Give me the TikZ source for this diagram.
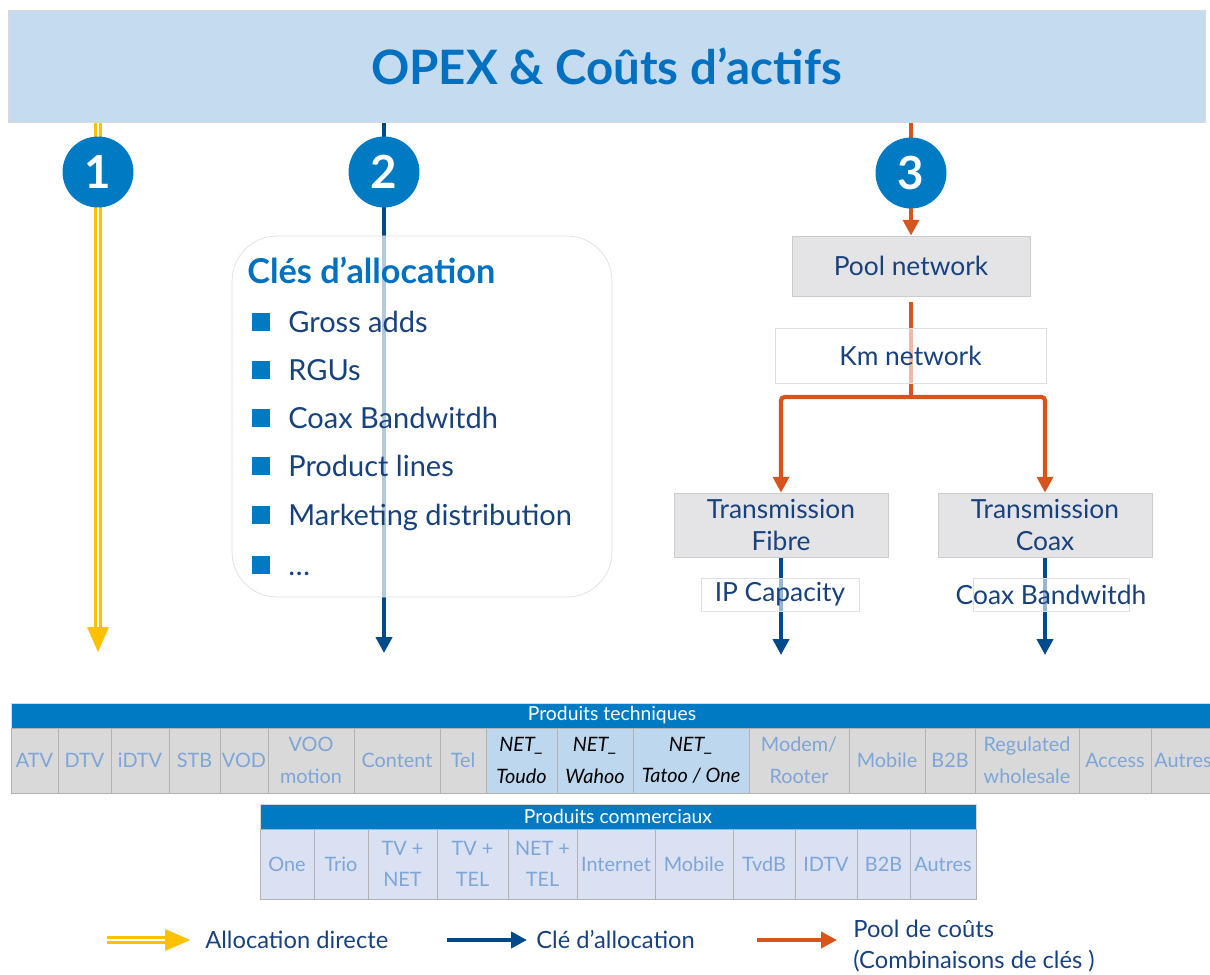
\documentclass[tikz,border=0pt]{standalone}
\usepackage{fontspec}
\setmainfont{Lato}
\usepackage{xcolor}
\usetikzlibrary{arrows.meta, positioning, calc, backgrounds}

\definecolor{bannerblue}{RGB}{197,219,239}
\definecolor{titleblue}{RGB}{0,112,192}
\definecolor{discblue}{RGB}{0,122,194}
\definecolor{keyblue}{RGB}{0,74,140}
\definecolor{textblue}{RGB}{24,66,126}
\definecolor{poolorange}{RGB}{214,84,30}
\definecolor{directyellow}{RGB}{255,192,0}
\definecolor{boxgray}{RGB}{228,228,230}
\definecolor{cellgray}{RGB}{217,217,217}
\definecolor{cellnet}{RGB}{189,215,238}
\definecolor{cellcom}{RGB}{218,225,242}
\definecolor{celltext}{RGB}{125,165,215}

\tikzset{
  banner/.style={rectangle, draw=black!15, fill=bannerblue, minimum width=23.94cm, minimum height=2.24cm, text=titleblue, font=\bfseries\fontsize{27}{30}\selectfont},
  disc/.style={circle, fill=discblue, minimum size=1.42cm, inner sep=0pt, text=white, font=\bfseries\fontsize{26}{26}\selectfont},
  keysbox/.style={rectangle, rounded corners=0.9cm, draw=black!12, fill=white, fill opacity=0.7, minimum width=7.6cm, minimum height=7.22cm},
  keyshead/.style={inner sep=0pt, text=titleblue, font=\bfseries\fontsize{19.5}{22}\selectfont},
  bullet/.style={rectangle, fill=discblue, minimum size=0.36cm, inner sep=0pt},
  keyitem/.style={inner sep=0pt, text=textblue, font=\fontsize{16.5}{19}\selectfont},
  graybox/.style={rectangle, draw=black!20, fill=boxgray, text=textblue, align=center, inner sep=0pt, font=\fontsize{15}{18}\selectfont},
  glassbox/.style={rectangle, draw=black!12, fill=white, fill opacity=0.6, text opacity=1, text=textblue, inner sep=0pt, font=\fontsize{15}{18}\selectfont},
  labelframe/.style={draw=black!12, fill=white, fill opacity=0.6},
  labeltext/.style={inner sep=0pt, text=textblue, font=\fontsize{15}{18}\selectfont},
  directline/.style={draw=directyellow, line width=1.3pt, double=white, double distance=1.6pt},
  keyline/.style={draw=keyblue, line width=2.4pt},
  poolline/.style={draw=poolorange, line width=2.4pt},
  keytip/.style={-{Triangle[length=9pt, width=9pt]}},
  pooltip/.style={-{Triangle[length=9pt, width=9pt]}},
  headcell/.style={fill=discblue, draw=black!15},
  headtext/.style={inner sep=0pt, text=white, font=\fontsize{11}{13}\selectfont},
  celltxt/.style={inner sep=0pt, align=center, text=celltext, font=\fontsize{11.3}{18}\selectfont},
  nettxt/.style={inner sep=0pt, align=center, text=black, font=\itshape\fontsize{11.3}{18}\selectfont},
  legendtext/.style={inner sep=0pt, text=textblue, align=left, font=\fontsize{13.5}{17.5}\selectfont}
}

\begin{document}
\begin{tikzpicture}[x=0.02cm, y=-0.02cm, >=latex]
\useasboundingbox (0,0) rectangle (1210,974);

% --- Banner OPEX ---
\node[banner] (banner) at (606.5,66) {OPEX \& Coûts d’actifs};

% --- Numbered discs ---
\node[disc] (c1) at (98,172) {1};
\node[disc] (c2) at (384,172) {2};
\node[disc] (c3) at (911,173) {3};

% --- Allocation keys (2) ---
\node[keysbox] (keys) at (422,416.5) {};
\node[keyshead, anchor=base west] (keyhead) at (247,283) {Clés d’allocation};
\foreach \y/\txt [count=\i] in {322/Gross adds, 370/RGUs, 418/Coax Bandwitdh, 466/Product lines, 515/Marketing distribution, 565/\dots}{
  \node[bullet] (b\i) at (261,\y) {};
  \node[keyitem, anchor=base west] (k\i) at (288,\y+10) {\txt};
}

% --- Cost pool (3) ---
\node[graybox, minimum width=4.76cm, minimum height=1.2cm] (pool) at (911,266) {Pool network};
\node[glassbox, minimum width=5.42cm, minimum height=1.1cm] (km) at (910.5,355.5) {Km network};
\coordinate (split) at (911,397);
\node[graybox, minimum width=4.28cm, minimum height=1.28cm] (fibre) at (781,525) {Transmission\\Fibre};
\node[graybox, minimum width=4.28cm, minimum height=1.28cm] (coax) at (1045,525) {Transmission\\Coax};

% arrow ends above the tables
\coordinate (d1end) at (98,652);
\coordinate (d2end) at (384,653);
\coordinate (d4end) at (781,655);
\coordinate (d5end) at (1045,655);

% --- Connectors (behind the boxes) ---
\begin{scope}[on background layer]
\draw[directline] (banner.south -| c1) -- ($(d1end)+(0,-22)$);
\fill[directyellow] ($(d1end)+(-11,-25)$) -- (d1end) -- ($(d1end)+(11,-25)$) -- cycle;
\draw[keyline, keytip] (banner.south -| c2) -- (d2end);
\draw[poolline, pooltip] (banner.south -| pool.north) -- (pool.north);
\draw[poolline, shorten <=0.12cm] (pool.south) -- (split);
\draw[poolline, pooltip, rounded corners=2pt] (split) -| (fibre.north);
\draw[poolline, pooltip, rounded corners=2pt] (split) -| (coax.north);
\draw[keyline, keytip] (fibre.south) -- (d4end);
\draw[keyline, keytip] (coax.south) -- (d5end);
\end{scope}

% key labels on the lines
\draw[labelframe] (701,578) rectangle (859,611);
\node[labeltext] (ipcap) at (780,594.5) {IP Capacity};
\draw[labelframe] (973,578) rectangle (1129,611);
\node[labeltext] (coaxbw) at (1051,594.5) {Coax Bandwitdh};

% --- Technical products ---
\fill[headcell] (11,703) rectangle (1215,728);
\node[headtext] (techhead) at (612,715.5) {Produits techniques};
\foreach \xa/\xb/\txt [count=\i] in {11/58/ATV, 58/111/DTV, 111/169/iDTV, 169/220/STB, 220/268/VOD, 268/354/VOO\\motion, 354/440/Content, 440/486/Tel, 749/849/{Modem/\\Rooter}, 849/925/Mobile, 925/975/B2B, 975/1079/Regulated\\wholesale, 1079/1151/Access, 1151/1215/Autres}{
  \draw[fill=cellgray, draw=black!30] (\xa,728) rectangle (\xb,793);
  \node[celltxt] (t\i) at ({(\xa+\xb)/2},760.5) {\txt};
}
\foreach \xa/\xb/\txt [count=\i] in {486/557/Toudo, 557/633/Wahoo, 633/749/{Tatoo / One}}{
  \draw[fill=cellnet, draw=black!30] (\xa,728) rectangle (\xb,793);
  \node[nettxt] (n\i) at ({(\xa+\xb)/2},760.5) {NET\_\\\txt};
}

% --- Commercial products ---
\fill[headcell] (260,804) rectangle (976,829);
\node[headtext] (comhead) at (618,816.5) {Produits commerciaux};
\foreach \xa/\xb/\txt [count=\i] in {260/314/One, 314/368/Trio, 368/437/TV +\\NET, 437/508/TV +\\TEL, 508/577/NET +\\TEL, 577/655/Internet, 655/733/Mobile, 733/795/TvdB, 795/857/IDTV, 857/910/B2B, 910/976/Autres}{
  \draw[fill=cellcom, draw=black!30] (\xa,829) rectangle (\xb,899);
  \node[celltxt] (p\i) at ({(\xa+\xb)/2},864) {\txt};
}

% --- Legend ---
\coordinate (lyA) at (107,940);
\coordinate (lyB) at (190,940);
\draw[directline] (lyA) -- ($(lyB)+(-22,0)$);
\fill[directyellow] ($(lyB)+(-25,-11)$) -- (lyB) -- ($(lyB)+(-25,11)$) -- cycle;
\node[legendtext, anchor=west] (lgdirect) at (205,940) {Allocation directe};
\coordinate (lbA) at (447,940);
\coordinate (lbB) at (527,940);
\draw[keyline, keytip] (lbA) -- (lbB);
\node[legendtext, anchor=west] (lgkey) at (536,940) {Clé d’allocation};
\coordinate (loA) at (757,940);
\coordinate (loB) at (837,940);
\draw[poolline, pooltip] (loA) -- (loB);
\node[legendtext, anchor=west] (lgpool) at (853,946) {Pool de coûts\\(Combinaisons de clés )};

\end{tikzpicture}
\end{document}
